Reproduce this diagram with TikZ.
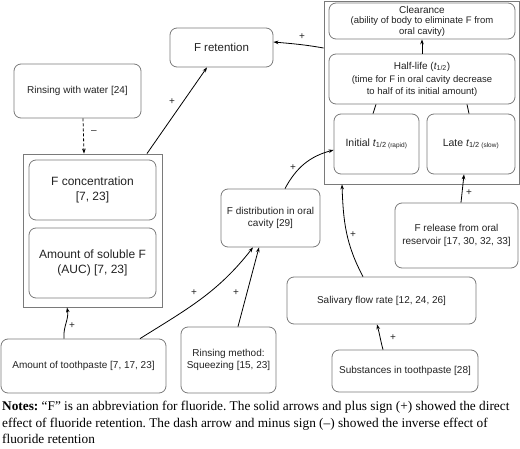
\documentclass[tikz,border=0pt]{standalone}
\usepackage{fontspec}
\setmainfont{Liberation Sans}
\newfontfamily\capserif{Liberation Serif}
\usetikzlibrary{arrows.meta}
\definecolor{boxgray}{HTML}{7A7A7A}
\definecolor{txt}{HTML}{222222}
\tikzset{
  box/.style={draw=boxgray, line width=0.8pt, rounded corners=7pt, align=center, text=txt, inner sep=2pt, font=\fontsize{10}{12.5}\selectfont},
  grp/.style={draw=boxgray, line width=0.9pt, inner sep=0pt},
  arr/.style={-{Stealth[length=5pt,width=3.6pt]}, line width=0.8pt, black},
  lnk/.style={line width=0.8pt, black},
  sgn/.style={font=\fontsize{10}{12}\selectfont, text=txt, inner sep=0pt}
}
\begin{document}
\frenchspacing
\begin{tikzpicture}[x=1pt,y=-1pt]
\useasboundingbox (0,0) rectangle (520,449);
% groups
\node[grp, minimum width=139pt, minimum height=153pt] (leftgrp) at (92.5,230.5) {};
\node[grp, minimum width=195pt, minimum height=183pt] (rightgrp) at (421.5,92.5) {};
% boxes
\node[box, minimum width=103pt, minimum height=39pt, font=\fontsize{11.5}{13}\selectfont] (ret) at (221.5,47.5) {F retention};
\node[box, minimum width=127pt, minimum height=54pt] (rinse) at (77.5,91) {Rinsing with water [24]};
\node[box, minimum width=127pt, minimum height=60pt, font=\fontsize{12}{15}\selectfont] (conc) at (92.5,190) {F concentration\\{}[7, 23]};
\node[box, minimum width=127pt, minimum height=70pt, font=\fontsize{12}{15}\selectfont] (sol) at (92.5,263) {Amount of soluble F\\(AUC) [7, 23]};
\node[box, minimum width=186pt, minimum height=36pt, font=\fontsize{10}{10.5}\selectfont] (clear) at (422,21) {Clearance\\{\fontsize{9.5}{10.5}\selectfont (ability of body to eliminate F from}\\{\fontsize{9.5}{10.5}\selectfont oral cavity)}};
\node[box, minimum width=186pt, minimum height=50pt, font=\fontsize{10}{12}\selectfont] (half) at (422,79) {Half-life ({\itshape t}\textsubscript{1/2})\\[1pt]{\fontsize{9.5}{12}\selectfont (time for F in oral cavity decrease}\\{\fontsize{9.5}{12}\selectfont to half of its initial amount)}};
\node[box, minimum width=85pt, minimum height=60pt, font=\fontsize{10.5}{12}\selectfont] (init) at (376.5,144) {Initial {\itshape t}\textsubscript{1/2 {\fontsize{6.5}{7}\selectfont (rapid)}}};
\node[box, minimum width=88pt, minimum height=60pt, font=\fontsize{10.5}{12}\selectfont] (late) at (471,144) {Late {\itshape t}\textsubscript{1/2 {\fontsize{6.5}{7}\selectfont (slow)}}};
\node[box, minimum width=99pt, minimum height=58pt] (dist) at (270.5,218) {F distribution in oral\\cavity [29]};
\node[box, minimum width=123pt, minimum height=65pt] (release) at (456.5,235.5) {F release from oral\\reservoir [17, 30, 32, 33]};
\node[box, minimum width=189pt, minimum height=47pt] (saliv) at (381.5,300.5) {Salivary flow rate [12, 24, 26]};
\node[box, minimum width=165pt, minimum height=54pt] (amt) at (83.5,366) {Amount of toothpaste [7, 17, 23]};
\node[box, minimum width=95pt, minimum height=66pt] (rmeth) at (228.5,360) {Rinsing method:\\Squeezing [15, 23]};
\node[box, minimum width=146pt, minimum height=42pt] (subst) at (405,371) {Substances in toothpaste [28]};
% connectors
\draw[arr, densely dashed] (rinse.south -| 83,0) -- (leftgrp.north -| 84,0);
\node[sgn] (s1) at (94,132) {–};
\draw[arr] (leftgrp.north -| 147,0) -- (ret.south -| 207,0);
\node[sgn] (s2) at (172,102) {+};
\draw[arr] (rightgrp.west |- 0,48) to[out=170,in=-5] (ret.east |- 0,42);
\node[sgn] (s3) at (302,37) {+};
\draw[arr] (half.north) -- (clear.south);
\draw[lnk] (init.north -| 373,0) -- (half.south -| 376,0);
\draw[lnk] (late.north -| 469,0) -- (half.south -| 467,0);
\draw[arr] (dist.north -| 285,0) to[out=62,in=195] (init.west |- 0,150);
\node[sgn] (s4) at (293,168) {+};
\draw[arr] (saliv.north -| 363,0) to[out=118,in=-88] (rightgrp.south -| 342,0);
\node[sgn] (s5) at (353,235) {+};
\draw[arr] (release.north -| 461,0) -- (late.south -| 464,0);
\node[sgn] (s6) at (469,193) {+};
\draw[arr] (subst.north -| 383,0) to[out=105,in=-75] (saliv.south -| 377,0);
\node[sgn] (s7) at (393,338) {+};
\draw[arr] (amt.north -| 64,0) to[out=95,in=-80] (leftgrp.south -| 67,0);
\node[sgn] (s8) at (72,326) {+};
\draw[arr] (amt.north -| 140,0) to[out=32,in=232] (dist.south -| 253,0);
\node[sgn] (s9) at (194,293) {+};
\draw[arr] (rmeth.north -| 238,0) -- (dist.south -| 259,0);
\node[sgn] (s10) at (236,293) {+};
% notes
\node[anchor=north west, align=left, inner sep=0pt, font=\capserif\fontsize{13.3}{16.5}\selectfont] (notes) at (2,401) {\textbf{Notes:} “F” is an abbreviation for fluoride. The solid arrows and plus sign (+) showed the direct\\effect of fluoride retention. The dash arrow and minus sign (–) showed the inverse effect of\\fluoride retention};
\end{tikzpicture}
\end{document}
